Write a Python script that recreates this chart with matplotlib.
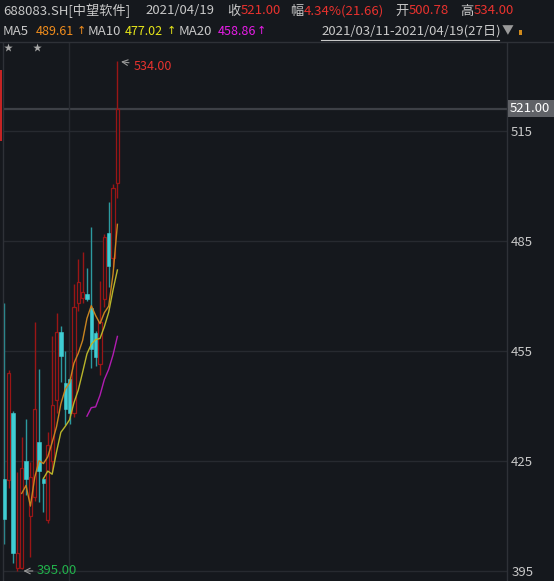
import matplotlib
matplotlib.use("Agg")
import matplotlib.pyplot as plt
from matplotlib.patches import Rectangle
from matplotlib.lines import Line2D
import pandas as pd

plt.rcParams['font.family'] = ['Noto Sans CJK SC', 'DejaVu Sans']

# daily bars 2021/03/11 - 2021/04/19 (27 trading days)
opens = [420.1, 419.8, 438.0, 395.8, 395.8, 425.1, 410.0, 415.3, 430.3, 420.1,
         408.9, 425.0, 441.6, 460.1, 446.4, 447.4, 438.0, 468.0, 469.4, 470.5,
         466.6, 459.8, 451.5, 469.1, 487.3, 480.4, 500.78]
highs = [468.2, 449.8, 438.5, 422.0, 431.6, 436.4, 424.8, 463.0, 450.1, 420.6,
         432.8, 459.1, 465.3, 461.9, 455.1, 448.0, 473.3, 480.1, 482.1, 477.5,
         488.9, 460.5, 474.0, 487.0, 495.7, 500.5, 534.0]
lows = [402.3, 417.5, 397.1, 395.0, 395.6, 415.7, 398.9, 414.0, 413.9, 411.2,
        408.0, 422.0, 438.0, 446.6, 434.8, 435.0, 437.0, 466.0, 468.0, 468.5,
        450.3, 450.9, 448.4, 467.0, 472.4, 478.0, 496.6]
closes = [409.2, 448.9, 399.8, 399.9, 423.0, 420.1, 420.7, 439.2, 422.4, 419.1,
          429.4, 440.3, 460.3, 453.7, 439.1, 438.2, 466.9, 473.9, 471.2, 469.3,
          455.5, 453.3, 463.0, 486.2, 478.2, 499.34, 521.0]
y_ticks = [395, 425, 455, 485, 515]
last_price = 521.00

W, H = 554, 581
BG = '#15181d'
UP = '#9a1616'
DOWN = '#3fcdd3'
DOWN_WICK = '#2c9aa0'
GRAY = '#c8c8c8'
RED_TXT = '#e8322e'


def fx(px):
    return px / W


def fy(py):
    return 1 - py / H


fig = plt.figure(figsize=(W / 100, H / 100), dpi=100, facecolor=BG)
ax = fig.add_axes([fx(3), 0, 504 / W, 538 / H], facecolor=BG)
ax.set_xlim(-0.3, 115.56)
ax.set_ylim(392.27, 539.0)

# grid
for v in y_ticks:
    ax.axhline(v, color='#272a30', lw=1, zorder=0)
ax.axhline(last_price, color='#3d4046', lw=1.6, zorder=0)
ax.axvline(14.87, color='#272a30', lw=1, zorder=0)

# candles
bw = 0.76
for i, (o, h, l, c) in enumerate(zip(opens, highs, lows, closes)):
    top, bot = max(o, c), min(o, c)
    if c >= o:
        ax.vlines(i, top, h, color=UP, lw=1, zorder=2)
        ax.vlines(i, l, bot, color=UP, lw=1, zorder=2)
        ax.add_patch(Rectangle((i - bw / 2, bot), bw, max(top - bot, 0.3),
                               facecolor=BG, edgecolor=UP, lw=0.9, zorder=3))
    else:
        ax.vlines(i, l, h, color=DOWN_WICK, lw=1, zorder=2)
        ax.add_patch(Rectangle((i - bw / 2, bot), bw, max(top - bot, 0.6),
                               facecolor=DOWN, edgecolor=DOWN, lw=0.4, zorder=3))

# moving averages
s = pd.Series(closes)
ax.plot(s.rolling(5).mean(), color='#c98420', lw=1, zorder=4)
ax.plot(s.rolling(10).mean(), color='#b9b52a', lw=1, zorder=4)
ax.plot(s.rolling(20).mean(), color='#b21cb2', lw=1, zorder=4)

# high / low markers
ax.annotate('', xy=(26.2, 534.0), xytext=(13.5, -1.8), textcoords='offset pixels',
            arrowprops=dict(arrowstyle='->', color='#9a9a9a', lw=0.8))
ax.annotate('534.00', xy=(26.2, 534.0), xytext=(15, -5), textcoords='offset pixels',
            color=RED_TXT, fontsize=9, va='center', ha='left')
ax.annotate('', xy=(3.75, 395.0), xytext=(15, 0), textcoords='offset pixels',
            arrowprops=dict(arrowstyle='->', color='#9a9a9a', lw=0.8))
ax.annotate('395.00', xy=(3.75, 395.0), xytext=(16, 0), textcoords='offset pixels',
            color='#22b24c', fontsize=9.5, va='center', ha='left')

# axes styling
ax.set_xticks([])
ax.yaxis.tick_right()
ax.set_yticks(y_ticks)
ax.set_yticklabels([str(v) for v in y_ticks])
ax.tick_params(axis='y', length=0, pad=3, labelsize=9.5, labelcolor=GRAY)
for name, sp in ax.spines.items():
    sp.set_color('#2e3137')
    sp.set_linewidth(1)
ax.spines['bottom'].set_visible(False)
ax.spines['top'].set_visible(False)

# current price tag
fig.add_artist(Rectangle((fx(508), fy(117)), 46 / W, 17 / H, transform=fig.transFigure,
                         facecolor='#606267', edgecolor='none'))
fig.text(fx(510), fy(108.5), '521.00', color='white', fontsize=9.5, va='center', ha='left')

# left red marker
fig.add_artist(Rectangle((0, fy(141)), 2 / W, 71 / H, transform=fig.transFigure,
                         facecolor='#c42424', edgecolor='none'))

# header
fig.add_artist(Line2D([0, 1], [fy(42), fy(42)], transform=fig.transFigure,
                      color='#2e3137', lw=1))
row1 = [
    (3, '688083.SH[中望软件]', GRAY),
    (145, '2021/04/19', GRAY),
    (227, '收', GRAY), (241, '521.00', RED_TXT),
    (290, '幅', GRAY), (304, '4.34%(21.66)', RED_TXT),
    (395, '开', GRAY), (409, '500.78', RED_TXT),
    (460, '高', GRAY), (474, '534.00', RED_TXT),
]
for x, t, col in row1:
    fig.text(fx(x), fy(11), t, color=col, fontsize=9.5, va='center', ha='left')

row2 = [
    (3, 'MA5', GRAY, 9.5), (36, '489.61', '#f08c1c', 9),
    (88, 'MA10', GRAY, 9.5), (125, '477.02', '#e6e619', 9),
    (179, 'MA20', GRAY, 9.5), (218, '458.86', '#e61ce6', 9),
    (321, '2021/03/11-2021/04/19(27日)', GRAY, 9.5),
]
for x, t, col, fs in row2:
    fig.text(fx(x), fy(31.5), t, color=col, fontsize=fs, va='center', ha='left')
for x, col in ((77, '#f08c1c'), (166.5, '#e6e619'), (257, '#e61ce6')):
    fig.text(fx(x), fy(31.5), '↑', color=col, fontsize=8, va='center', ha='left',
             family=['DejaVu Sans'])
fig.add_artist(Line2D([fx(321), fx(499)], [fy(40), fy(40)], transform=fig.transFigure,
                      color=GRAY, lw=0.8))
fig.text(fx(502), fy(31), '▼', color='#9a9a9a', fontsize=8.5, va='center', ha='left')
fig.add_artist(Rectangle((fx(519), fy(35)), 3 / W, 5 / H, transform=fig.transFigure,
                         facecolor='#d08a1c', edgecolor='none'))

for x in (8, 37):
    fig.text(fx(x), fy(47.5), '★', color='#a8a8a8', fontsize=6.5, va='center', ha='center')

fig.savefig('out.png', dpi=100, facecolor=BG)
